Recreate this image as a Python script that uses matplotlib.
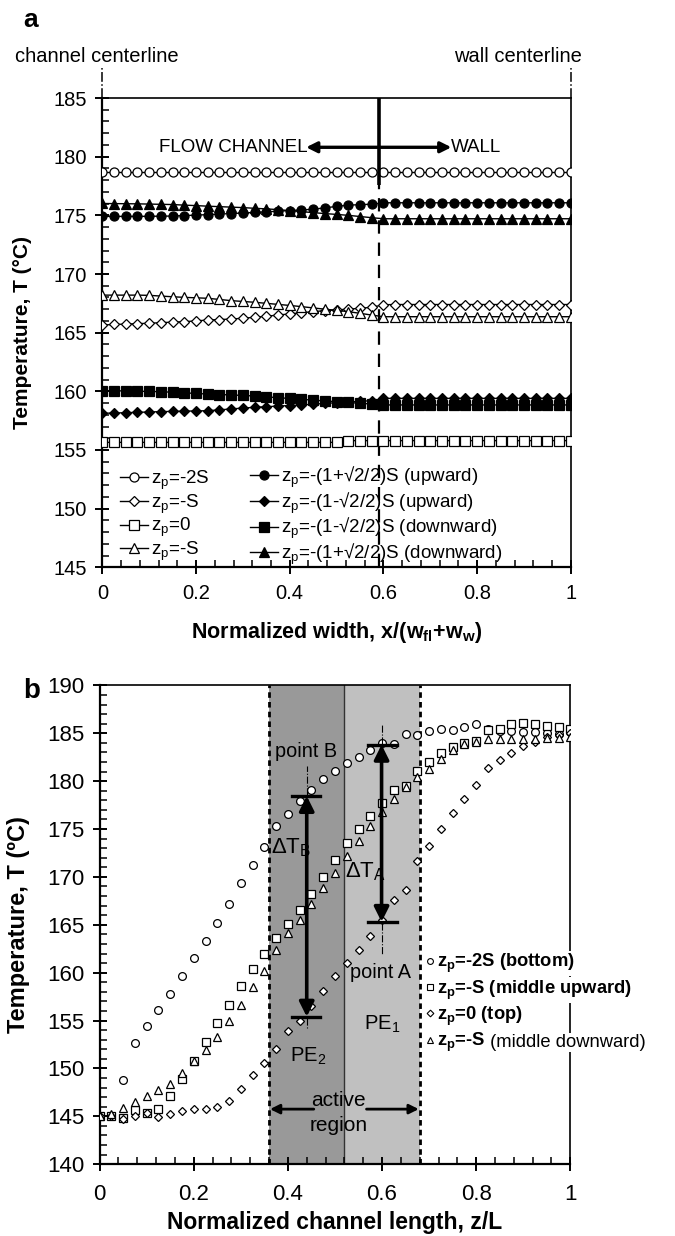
import numpy as np
import matplotlib
matplotlib.use("Agg")
import matplotlib.pyplot as plt
from matplotlib.lines import Line2D
from matplotlib.patches import Rectangle
from matplotlib.ticker import MultipleLocator

plt.rcParams['font.family'] = ['Liberation Sans', 'DejaVu Sans']
plt.rcParams['mathtext.fontset'] = 'custom'
plt.rcParams['mathtext.rm'] = 'Liberation Sans'
plt.rcParams['mathtext.it'] = 'Liberation Sans:italic'
plt.rcParams['mathtext.bf'] = 'Liberation Sans:bold'
plt.rcParams['mathtext.default'] = 'regular'

# ---------------- data : panel a ----------------
x_width = [0.000, 0.025, 0.050, 0.075, 0.100, 0.125, 0.150, 0.175, 0.200, 0.225,
           0.250, 0.275, 0.300, 0.325, 0.350, 0.375, 0.400, 0.425, 0.450, 0.475,
           0.500, 0.525, 0.550, 0.575, 0.600, 0.625, 0.650, 0.675, 0.700, 0.725,
           0.750, 0.775, 0.800, 0.825, 0.850, 0.875, 0.900, 0.925, 0.950, 0.975, 1.000]

a_m2S = [178.7, 178.7, 178.7, 178.7, 178.7, 178.7, 178.7, 178.7, 178.7, 178.7,
         178.7, 178.7, 178.7, 178.7, 178.7, 178.7, 178.7, 178.7, 178.7, 178.7,
         178.7, 178.7, 178.7, 178.7, 178.7, 178.7, 178.7, 178.7, 178.7, 178.7,
         178.7, 178.7, 178.7, 178.7, 178.7, 178.7, 178.7, 178.7, 178.7, 178.7, 178.7]
a_mS = [165.65, 165.70, 165.73, 165.77, 165.80, 165.85, 165.90, 165.94, 166.00, 166.08,
        166.12, 166.16, 166.23, 166.31, 166.40, 166.50, 166.60, 166.70, 166.79, 166.88,
        166.94, 167.00, 167.08, 167.16, 167.38, 167.40, 167.40, 167.40, 167.40, 167.40,
        167.40, 167.40, 167.40, 167.40, 167.40, 167.40, 167.40, 167.40, 167.40, 167.40, 167.40]
a_zero = [155.65, 155.65, 155.65, 155.65, 155.65, 155.65, 155.65, 155.65, 155.65, 155.65,
          155.65, 155.65, 155.65, 155.65, 155.65, 155.65, 155.65, 155.65, 155.65, 155.65,
          155.65, 155.80, 155.80, 155.80, 155.80, 155.80, 155.80, 155.80, 155.80, 155.80,
          155.80, 155.80, 155.80, 155.80, 155.80, 155.80, 155.80, 155.80, 155.80, 155.80, 155.80]
a_mS_down = [168.20, 168.20, 168.20, 168.20, 168.18, 168.12, 168.06, 168.01, 167.97, 167.93,
             167.83, 167.73, 167.66, 167.59, 167.50, 167.41, 167.32, 167.22, 167.11, 167.00,
             166.90, 166.79, 166.65, 166.50, 166.36, 166.36, 166.36, 166.36, 166.36, 166.36,
             166.36, 166.36, 166.36, 166.36, 166.36, 166.36, 166.36, 166.36, 166.36, 166.36, 166.36]
a_1p_up = [174.91, 174.91, 174.91, 174.91, 174.92, 174.93, 174.94, 174.98, 175.02, 175.06,
           175.11, 175.15, 175.20, 175.25, 175.30, 175.35, 175.41, 175.46, 175.52, 175.64,
           175.76, 175.87, 175.91, 175.95, 176.07, 176.07, 176.07, 176.07, 176.07, 176.07,
           176.07, 176.07, 176.07, 176.07, 176.07, 176.07, 176.07, 176.07, 176.07, 176.07, 176.07]
a_1m_up = [158.13, 158.15, 158.18, 158.21, 158.24, 158.27, 158.29, 158.31, 158.33, 158.35,
           158.42, 158.50, 158.57, 158.64, 158.69, 158.74, 158.79, 158.84, 158.90, 158.97,
           159.03, 159.09, 159.15, 159.20, 159.40, 159.40, 159.40, 159.40, 159.40, 159.40,
           159.40, 159.40, 159.40, 159.40, 159.40, 159.40, 159.40, 159.40, 159.40, 159.40, 159.40]
a_1m_down = [160.06, 160.05, 160.03, 160.01, 159.99, 159.97, 159.92, 159.87, 159.82, 159.77,
             159.73, 159.69, 159.65, 159.60, 159.53, 159.46, 159.39, 159.32, 159.25, 159.18,
             159.12, 159.05, 158.98, 158.92, 158.84, 158.84, 158.84, 158.84, 158.84, 158.84,
             158.84, 158.84, 158.84, 158.84, 158.84, 158.84, 158.84, 158.84, 158.84, 158.84, 158.84]
a_1p_down = [176.01, 176.00, 175.99, 175.98, 175.96, 175.94, 175.92, 175.87, 175.83, 175.78,
             175.74, 175.70, 175.66, 175.60, 175.55, 175.49, 175.40, 175.32, 175.23, 175.15,
             175.08, 175.00, 174.90, 174.80, 174.71, 174.71, 174.71, 174.71, 174.71, 174.71,
             174.71, 174.71, 174.71, 174.71, 174.71, 174.71, 174.71, 174.71, 174.71, 174.71, 174.71]

labels_a = [r'z$_p$=-2S', r'z$_p$=-S', r'z$_p$=0', r'z$_p$=-S',
            'z$_p$=-(1+\u221a2/2)S (upward)', 'z$_p$=-(1-\u221a2/2)S (upward)',
            'z$_p$=-(1-\u221a2/2)S (downward)', 'z$_p$=-(1+\u221a2/2)S (downward)']

# ---------------- data : panel b ----------------
z_len = [0.000, 0.025, 0.050, 0.075, 0.100, 0.125, 0.150, 0.175, 0.200, 0.225,
         0.250, 0.275, 0.300, 0.325, 0.350, 0.375, 0.400, 0.425, 0.450, 0.475,
         0.500, 0.525, 0.550, 0.575, 0.600, 0.625, 0.650, 0.675, 0.700, 0.725,
         0.750, 0.775, 0.800, 0.825, 0.850, 0.875, 0.900, 0.925, 0.950, 0.975, 1.000]
b_bottom = [145.0, 145.0, 148.8, 152.7, 154.4, 156.1, 157.8, 159.6, 161.5, 163.3,
            165.2, 167.2, 169.4, 171.2, 173.1, 175.3, 176.6, 177.9, 179.1, 180.2,
            181.1, 181.9, 182.5, 183.3, 184.0, 183.9, 184.9, 184.8, 185.2, 185.4,
            185.35, 185.7, 186.0, 185.4, 185.2, 185.2, 185.1, 185.1, 185.0, 184.9, 185.1]
b_mid_up = [145.0, 145.0, 144.8, 145.7, 145.3, 145.8, 147.1, 148.9, 150.8, 152.8,
            154.7, 156.6, 158.6, 160.4, 162.0, 163.6, 165.1, 166.5, 168.2, 170.0,
            171.8, 173.5, 175.0, 176.4, 177.75, 179.1, 179.5, 181.1, 182.0, 182.9,
            183.6, 184.0, 184.2, 185.3, 185.4, 186.0, 186.1, 186.0, 185.8, 185.6, 185.4]
b_top = [145.0, 145.0, 144.7, 145.05, 145.3, 144.9, 145.2, 145.6, 145.75, 145.75,
         146.0, 146.6, 147.85, 149.3, 150.6, 152.0, 153.9, 154.9, 156.5, 158.1,
         159.65, 161.0, 162.4, 163.85, 165.5, 167.55, 168.6, 171.65, 173.25, 175.05,
         176.7, 178.1, 179.6, 181.4, 182.2, 182.95, 183.7, 184.1, 184.6, 184.8, 185.0]
b_mid_down = [145.0, 145.2, 145.9, 146.5, 147.1, 147.7, 148.4, 149.5, 150.8, 151.9,
              153.3, 154.9, 156.6, 158.5, 160.2, 162.4, 164.1, 165.5, 167.2, 168.8,
              170.4, 172.2, 173.7, 175.3, 176.8, 178.1, 179.4, 180.4, 181.3, 182.3,
              183.2, 183.85, 184.1, 184.35, 184.4, 184.45, 184.45, 184.45, 184.5, 184.55, 184.6]

active_edges = [0.36, 0.52, 0.68]

# ---------------- figure ----------------
fig = plt.figure(figsize=(6.75, 12.36), dpi=100)
axA = fig.add_axes([0.1516, 0.5410, 0.6941, 0.3797])
axB = fig.add_axes([0.1476, 0.0581, 0.6973, 0.3874])

# ===== panel a =====
ms_a = 6.5
series_a = [
    (a_m2S, 'o', 'white'), (a_mS, 'D', 'white'), (a_zero, 's', 'white'), (a_mS_down, '^', 'white'),
    (a_1p_up, 'o', 'black'), (a_1m_up, 'D', 'black'), (a_1m_down, 's', 'black'), (a_1p_down, '^', 'black'),
]
handles_a = []
for (vals, mk, fc) in series_a:
    size = ms_a - 1.3 if mk == 'D' else ms_a
    axA.plot(x_width, vals, color='black', lw=1.0, marker=mk, ms=size, mfc=fc,
             mec='black', mew=0.9, zorder=3)
    handles_a.append(Line2D([], [], color='black', lw=1.0, marker=mk, ms=size,
                            mfc=fc, mec='black', mew=0.9))

axA.set_xlim(0, 1)
axA.set_ylim(145, 185)
axA.set_xticks([0, 0.2, 0.4, 0.6, 0.8, 1.0])
axA.set_xticklabels(['0', '0.2', '0.4', '0.6', '0.8', '1'])
axA.xaxis.set_minor_locator(MultipleLocator(0.04))
axA.yaxis.set_major_locator(MultipleLocator(5))
axA.yaxis.set_minor_locator(MultipleLocator(1))
axA.tick_params(which='major', direction='inout', length=10, width=1.4, labelsize=14.5, pad=6)
axA.tick_params(axis='x', which='major', pad=7)
axA.tick_params(which='minor', direction='in', length=5, width=1.1)
for s in axA.spines.values():
    s.set_linewidth(1.6)
axA.spines['top'].set_linewidth(1.2)
axA.spines['right'].set_linewidth(1.2)

axA.set_xlabel(r'Normalized width, x/(w$_{fl}$+w$_w$)', fontsize=15.5, fontweight='bold')
axA.xaxis.set_label_coords(0.5, -0.112)
axA.set_ylabel('Temperature, T (°C)', fontsize=15, fontweight='bold')
axA.yaxis.set_label_coords(-0.15, 0.5)

# dashed interface line and cross
axA.plot([0.59, 0.59], [145, 177.6], color='black', lw=1.6, ls=(0, (6, 4)), zorder=2)
axA.plot([0.59, 0.59], [177.6, 185], color='black', lw=2.6, zorder=4, solid_capstyle='butt')
axA.annotate('', xy=(0.435, 180.8), xytext=(0.745, 180.8),
             arrowprops=dict(arrowstyle='<|-|>', lw=2.4, color='black',
                             mutation_scale=16, shrinkA=0, shrinkB=0), zorder=4)
axA.text(0.438, 180.8, 'FLOW CHANNEL', ha='right', va='center', fontsize=13.5)
axA.text(0.743, 180.8, 'WALL', ha='left', va='center', fontsize=13.5)

# centerline markers above the box
for xv in (0.0, 1.0):
    axA.plot([xv, xv], [185, 187.6], color='black', lw=1.1, ls='-.', clip_on=False)
axA.text(-0.012, 188.1, 'channel centerline', ha='center', va='baseline', fontsize=14.5)
axA.text(0.888, 188.1, 'wall centerline', ha='center', va='baseline', fontsize=14.5)

leg_a1 = axA.legend(handles_a[:4], labels_a[:4], loc='center left', bbox_to_anchor=(0.038, 0.11),
                    frameon=False, fontsize=13.5, handlelength=1.5, handletextpad=0.15,
                    labelspacing=0.02, borderpad=0, borderaxespad=0)
axA.add_artist(leg_a1)
leg_a2 = axA.legend(handles_a[4:], labels_a[4:], loc='center left', bbox_to_anchor=(0.315, 0.11),
                    frameon=False, fontsize=13.5, handlelength=1.5, handletextpad=0.15,
                    labelspacing=0.02, borderpad=0, borderaxespad=0)

fig.text(31 / 675, 1 - 20 / 1236, 'a', fontsize=19, fontweight='bold', ha='center', va='center')

# ===== panel b =====
axB.add_patch(Rectangle((active_edges[0], 140), active_edges[1] - active_edges[0], 50,
                        facecolor='#999999', edgecolor='none', zorder=0))
axB.add_patch(Rectangle((active_edges[1], 140), active_edges[2] - active_edges[1], 50,
                        facecolor='#c0c0c0', edgecolor='none', zorder=0))
axB.plot([active_edges[0]] * 2, [140, 190], color='black', lw=2.0, ls=(0, (2, 1.5)), zorder=1)
axB.plot([active_edges[2]] * 2, [140, 190], color='black', lw=2.0, ls=(0, (2, 1.5)), zorder=1)
axB.plot([active_edges[1]] * 2, [140, 190], color='#333333', lw=1.0, zorder=1)

ms_b = 5.6
axB.plot(z_len, b_bottom, ls='none', marker='o', ms=ms_b, mfc='white', mec='black', mew=0.9, zorder=3)
axB.plot(z_len, b_mid_up, ls='none', marker='s', ms=ms_b, mfc='white', mec='black', mew=0.9, zorder=3)
axB.plot(z_len, b_top, ls='none', marker='D', ms=ms_b - 1.2, mfc='white', mec='black', mew=0.9, zorder=3)
axB.plot(z_len, b_mid_down, ls='none', marker='^', ms=ms_b + 0.4, mfc='white', mec='black', mew=0.9, zorder=3)

axB.set_xlim(0, 1)
axB.set_ylim(140, 190)
axB.set_xticks([0, 0.2, 0.4, 0.6, 0.8, 1.0])
axB.set_xticklabels(['0', '0.2', '0.4', '0.6', '0.8', '1'])
axB.xaxis.set_minor_locator(MultipleLocator(0.04))
axB.yaxis.set_major_locator(MultipleLocator(5))
axB.yaxis.set_minor_locator(MultipleLocator(1))
axB.tick_params(which='major', direction='inout', length=10, width=1.4, labelsize=16, pad=6)
axB.tick_params(axis='x', which='major', pad=9)
axB.tick_params(which='minor', direction='in', length=5, width=1.1)
for s in axB.spines.values():
    s.set_linewidth(1.6)
axB.spines['top'].set_linewidth(1.2)
axB.spines['right'].set_linewidth(1.2)

axB.set_xlabel('Normalized channel length, z/L', fontsize=16.5, fontweight='bold')
axB.xaxis.set_label_coords(0.5, -0.098)
axB.set_ylabel('Temperature, T (ºC)', fontsize=17, fontweight='bold')
axB.yaxis.set_label_coords(-0.148, 0.5)

# delta T arrows
arrow_kw = dict(arrowstyle='<|-|>', lw=2.6, color='black', mutation_scale=22, shrinkA=0, shrinkB=0)
axB.annotate('', xy=(0.44, 178.45), xytext=(0.44, 155.4), arrowprops=arrow_kw, zorder=5)
axB.plot([0.409, 0.469], [178.45, 178.45], color='black', lw=2.4, zorder=5)
axB.plot([0.409, 0.469], [155.4, 155.4], color='black', lw=2.4, zorder=5)
axB.plot([0.44, 0.44], [178.6, 181.6], color='black', lw=0.8, ls='-.', zorder=4)
axB.plot([0.44, 0.44], [155.3, 154.2], color='black', lw=0.8, ls='-.', zorder=4)

axB.annotate('', xy=(0.599, 183.8), xytext=(0.599, 165.3), arrowprops=arrow_kw, zorder=5)
axB.plot([0.571, 0.631], [183.8, 183.8], color='black', lw=2.4, zorder=5)
axB.plot([0.571, 0.631], [165.3, 165.3], color='black', lw=2.4, zorder=5)
axB.plot([0.599, 0.599], [183.9, 186.0], color='black', lw=0.8, ls='-.', zorder=4)
axB.plot([0.599, 0.599], [165.2, 161.8], color='black', lw=0.8, ls='-.', zorder=4)

axB.text(0.438, 183.1, 'point B', ha='center', va='center', fontsize=14.3, zorder=6)
axB.text(0.596, 160.0, 'point A', ha='center', va='center', fontsize=14.3, zorder=6)
axB.text(0.365, 173.0, 'ΔT$_B$', ha='left', va='center', fontsize=16, zorder=6)
axB.text(0.521, 170.5, 'ΔT$_A$', ha='left', va='center', fontsize=16, zorder=6)
axB.text(0.443, 151.3, 'PE$_2$', ha='center', va='center', fontsize=14.5, zorder=6)
axB.text(0.600, 154.55, 'PE$_1$', ha='center', va='center', fontsize=14.5, zorder=6)
axB.text(0.508, 146.6, 'active', ha='center', va='center', fontsize=15, zorder=6)
axB.text(0.508, 144.0, 'region', ha='center', va='center', fontsize=15, zorder=6)
small_arrow = dict(arrowstyle='-|>', lw=2.0, color='black', mutation_scale=14, shrinkA=0, shrinkB=0)
axB.annotate('', xy=(0.362, 145.75), xytext=(0.455, 145.75), arrowprops=small_arrow, zorder=5)
axB.annotate('', xy=(0.678, 145.75), xytext=(0.567, 145.75), arrowprops=small_arrow, zorder=5)

# legend of panel b
handles_b = [
    Line2D([], [], ls='none', marker='o', ms=4.2, mfc='white', mec='black', mew=0.8),
    Line2D([], [], ls='none', marker='s', ms=4.0, mfc='white', mec='black', mew=0.8),
    Line2D([], [], ls='none', marker='D', ms=3.4, mfc='white', mec='black', mew=0.8),
    Line2D([], [], ls='none', marker='^', ms=4.2, mfc='white', mec='black', mew=0.8),
]
labels_b = [r'z$_p$=-2S (bottom)', r'z$_p$=-S (middle upward)', r'z$_p$=0 (top)', r'z$_p$=-S']
leg_b = axB.legend(handles_b, labels_b, loc='upper left', bbox_to_anchor=(0.692, 0.443),
                   frameon=False, prop={'weight': 'bold', 'size': 13.2}, handlelength=0.5,
                   handletextpad=0.15, labelspacing=0.17, borderpad=0, borderaxespad=0)
leg_b.set_zorder(7)
for t in leg_b.get_texts():
    t.set_bbox(dict(facecolor='white', edgecolor='none', pad=0.6))
fig.canvas.draw()
last_txt = leg_b.get_texts()[3]
axB.annotate(' (middle downward)', xy=(1.0, 0.5), xycoords=last_txt, ha='left', va='center',
             fontsize=13.2, fontweight='normal', annotation_clip=False, zorder=8,
             bbox=dict(facecolor='white', edgecolor='none', pad=0.6))

fig.text(32 / 675, 1 - 691 / 1236, 'b', fontsize=20, fontweight='bold', ha='center', va='center')

fig.savefig('out.png', dpi=100)
